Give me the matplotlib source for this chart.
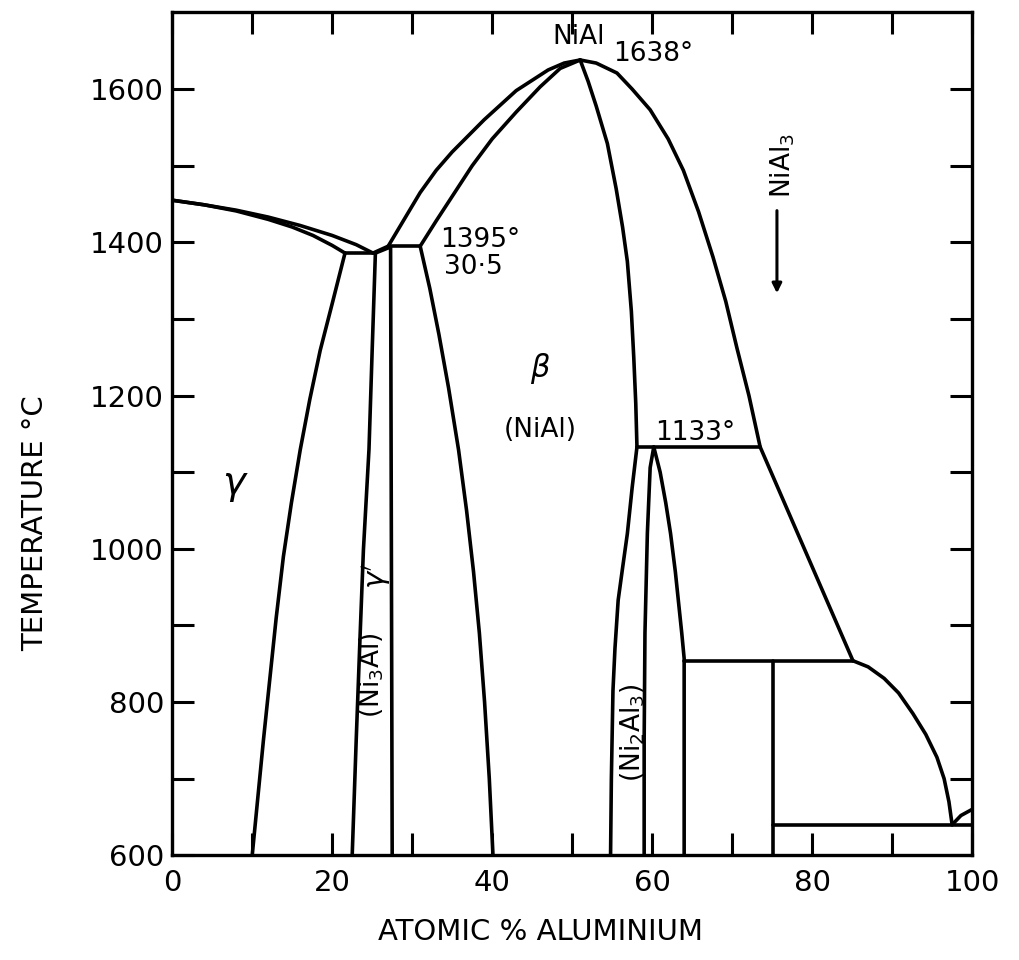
import matplotlib.pyplot as plt

# Ni-Al equilibrium diagram: boundaries as (atomic % Al, temperature in deg C)
liq_gamma_x = [0, 4, 8, 12, 16, 20, 23, 25.1, 27.0]
liq_gamma_t = [1455, 1449, 1442, 1433, 1422, 1409, 1397, 1386, 1395]

sol_gamma_x = [0, 4, 8, 12, 15, 17.6, 20, 21.6]
sol_gamma_t = [1455, 1449, 1441, 1430, 1420, 1409, 1396, 1386]

solvus_gamma_x = [21.6, 20.0, 18.5, 17.2, 16.0, 14.9, 13.9, 13.0, 12.2, 11.4, 10.7, 10.0]
solvus_gamma_t = [1386, 1320, 1259, 1195, 1129, 1060, 990, 910, 830, 750, 675, 600]

gp_left_x = [25.4, 25.0, 24.6, 23.9, 23.5, 23.0, 22.5]
gp_left_t = [1386, 1260, 1130, 998, 890, 750, 600]
gp_right_x = [25.4, 27.3, 27.5]
gp_right_t = [1386, 1394, 600]

beta_liq_left_x = [27.0, 29, 31, 33, 35, 39, 43, 47, 49, 51]
beta_liq_left_t = [1395, 1430, 1465, 1494, 1518, 1560, 1598, 1625, 1634, 1638]
beta_sol_left_x = [31, 33, 35, 37.5, 40, 43, 46, 48.5, 51]
beta_sol_left_t = [1395, 1428, 1460, 1500, 1535, 1570, 1603, 1627, 1638]
beta_solvus_left_x = [31, 32.2, 33.34, 34.55, 35.8, 36.8, 37.67, 38.4, 39.05, 39.64, 40.1]
beta_solvus_left_t = [1395, 1340, 1280, 1210, 1129, 1050, 970, 890, 800, 700, 600]

beta_liq_right_x = [51, 53, 55.6, 57.5, 59.75, 62, 63.9, 65.8, 67.6, 69.2, 70.6, 72.1, 73.5]
beta_liq_right_t = [1638, 1634, 1621, 1600, 1573, 1535, 1494, 1440, 1381, 1323, 1262, 1200, 1133]
beta_solvus_right_x = [51, 52, 53, 54.4, 55.5, 56.3, 56.9, 57.4, 57.7, 57.95, 58.1]
beta_solvus_right_t = [1638, 1610, 1578, 1529, 1470, 1420, 1375, 1310, 1250, 1190, 1133]
beta_low_x = [58.1, 57.5, 56.9, 56.3, 55.75, 55.35, 55.1, 54.9, 54.8]
beta_low_t = [1133, 1080, 1020, 975, 933, 870, 815, 700, 600]

ni2al3_left_x = [60.2, 59.75, 59.4, 59.1, 59.0, 59.0]
ni2al3_left_t = [1133, 1106, 1020, 890, 750, 600]
ni2al3_right_x = [60.2, 61.0, 61.7, 62.3, 62.9, 63.3, 63.7, 64.0, 64.0]
ni2al3_right_t = [1133, 1100, 1060, 1020, 970, 930, 890, 857, 600]

liq_mid_x = [73.5, 85.1]
liq_mid_t = [1133, 854]
liq_al_x = [85.1, 87.0, 89.0, 90.8, 92.6, 94.2, 95.6, 96.5, 97.1, 97.5]
liq_al_t = [854, 846, 831, 812, 785, 758, 728, 700, 670, 640]
al_x = [97.5, 98.6, 100]
al_t = [640, 652, 660]
nial3_x = [75.1, 75.1]
nial3_t = [854, 600]

# invariant horizontals: (x start, x end, temperature)
isotherms = [(21.6, 25.4, 1386), (27.3, 31.0, 1395), (58.1, 73.5, 1133),
             (64.0, 85.1, 854), (75.1, 100, 640)]

plt.rcParams['font.family'] = 'DejaVu Sans'
fig = plt.figure(figsize=(10.19, 9.6), dpi=100)
ax = fig.add_axes([0.169, 0.109, 0.785, 0.878])

lw = 2.6
curves = [
    (liq_gamma_x, liq_gamma_t), (sol_gamma_x, sol_gamma_t),
    (solvus_gamma_x, solvus_gamma_t), (gp_left_x, gp_left_t),
    (gp_right_x, gp_right_t), (beta_liq_left_x, beta_liq_left_t),
    (beta_sol_left_x, beta_sol_left_t), (beta_solvus_left_x, beta_solvus_left_t),
    (beta_liq_right_x, beta_liq_right_t), (beta_solvus_right_x, beta_solvus_right_t),
    (beta_low_x, beta_low_t), (ni2al3_left_x, ni2al3_left_t),
    (ni2al3_right_x, ni2al3_right_t), (liq_mid_x, liq_mid_t),
    (liq_al_x, liq_al_t), (al_x, al_t), (nial3_x, nial3_t),
]
for xs, ts in curves:
    ax.plot(xs, ts, color='black', lw=lw, solid_capstyle='round', solid_joinstyle='round')
for x0, x1, t in isotherms:
    ax.plot([x0, x1], [t, t], color='black', lw=lw, solid_capstyle='round')

ax.set_xlim(0, 100)
ax.set_ylim(600, 1700)
ax.set_xticks(range(0, 101, 20))
ax.set_xticks(range(10, 100, 20), minor=True)
ax.set_yticks(range(600, 1601, 200))
ax.set_yticks(range(700, 1700, 200), minor=True)
ax.tick_params(which='both', direction='in', length=16, width=2.2,
               top=True, right=True, labelsize=21)
ax.tick_params(axis='x', pad=10)
ax.tick_params(axis='y', pad=6)
for sp in ax.spines.values():
    sp.set_linewidth(2.4)

fs = 19
ax.text(50.75, 1668, 'NiAl', ha='center', va='center', fontsize=fs)
ax.text(55.1, 1646, '1638°', ha='left', va='center', fontsize=fs)
ax.text(33.5, 1403, '1395°', ha='left', va='center', fontsize=fs)
ax.text(34.0, 1368, '30·5', ha='left', va='center', fontsize=fs)
ax.text(60.4, 1151, '1133°', ha='left', va='center', fontsize=fs)
ax.text(46, 1235, r'$\beta$', ha='center', va='center', fontsize=22)
ax.text(46, 1155, '(NiAl)', ha='center', va='center', fontsize=fs)
ax.text(7.9, 1083, r'$\gamma$', ha='center', va='center', fontsize=28)
ax.text(25.5, 965, r"$\gamma'$", ha='center', va='center', fontsize=21, rotation=90)
ax.text(24.9, 835, r'(Ni$_3$Al)', ha='center', va='center', fontsize=fs, rotation=90)
ax.text(57.6, 760, r'(Ni$_2$Al$_3$)', ha='center', va='center', fontsize=fs, rotation=90)
ax.text(76.3, 1500, r'NiAl$_3$', ha='center', va='center', fontsize=fs, rotation=90)
ax.annotate('', xy=(75.6, 1330), xytext=(75.6, 1445),
            arrowprops=dict(arrowstyle='-|>', color='black', lw=2.2, mutation_scale=14))

fig.text(0.53, 1 - 932 / 960, 'ATOMIC % ALUMINIUM', ha='center', va='center', fontsize=21)
fig.text(35 / 1019, 1 - 523 / 960, 'TEMPERATURE °C', ha='center', va='center',
         fontsize=21, rotation=90)

fig.savefig('out.png', dpi=100)
